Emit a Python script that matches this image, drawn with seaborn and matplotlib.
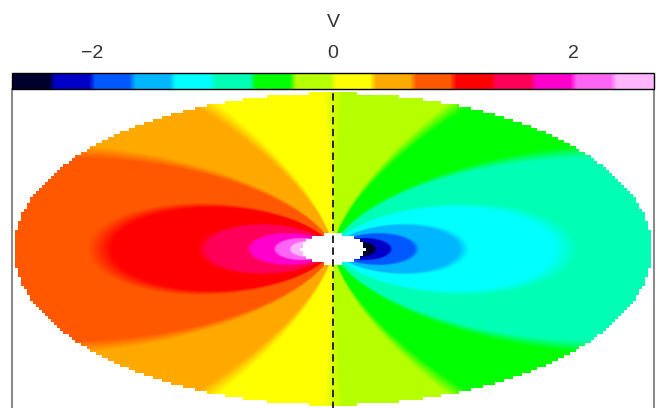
import numpy as np
import matplotlib
matplotlib.use("Agg")
import matplotlib.pyplot as plt
from matplotlib.colors import LinearSegmentedColormap, Normalize
from matplotlib.ticker import MultipleLocator
import seaborn as sns

# Velocity scale: sixteen colour bands from v_min to v_max
band_colors = ["#00002c", "#0000c8", "#0058ff", "#00b6ff", "#00ffff", "#00ffb4",
               "#00ff00", "#b6ff00", "#ffff00", "#ffaa00", "#ff5800", "#ff0000",
               "#ff0058", "#ff00cc", "#ff64f4", "#ffb6ff"]
v_min, v_max = -8 / 3, 8 / 3
cbar_major_ticks = [-2, 0, 2]
cbar_minor_step = 0.5
cbar_label = "V"

# Disk geometry (radius in units of the outer edge)
r_inner = 0.10
r_outer = 1.0
cos_incl = 0.489
v_scale = 0.854          # line-of-sight speed at r = 1 on the major axis

# Plot window in sky coordinates
x_half = 1.006
y_half = 0.5016

sns.set_theme(style="white")
plt.rcParams["font.family"] = ["Liberation Sans", "DejaVu Sans"]

# Banded colormap with short blends between neighbouring colours
n = len(band_colors)
blend = 0.08 / n
nodes = [(0.0, band_colors[0])]
for k in range(n - 1):
    edge = (k + 1) / n
    nodes.append((edge - blend, band_colors[k]))
    nodes.append((edge + blend, band_colors[k + 1]))
nodes.append((1.0, band_colors[-1]))
cmap = LinearSegmentedColormap.from_list("vbands", nodes, N=2048)
norm = Normalize(vmin=v_min, vmax=v_max)

# Keplerian line-of-sight velocity on a fine grid
fx = np.linspace(-x_half, x_half, 1284)
fy = np.linspace(-y_half, y_half, 640)
FX, FY = np.meshgrid(fx, fy)
FR = np.hypot(FX, FY / cos_incl)
FR = np.maximum(FR, 1e-3)
vel = np.clip(-v_scale * FX / FR ** 1.5, v_min, v_max)

# Coarse pixel mask: outside the disk and inside the inner hole
nx, ny = 214, 107
cx = (np.arange(nx) + 0.5) / nx * 2 * x_half - x_half
cy = (np.arange(ny) + 0.5) / ny * 2 * y_half - y_half
CX, CY = np.meshgrid(cx, cy)
CR = np.hypot(CX, CY / cos_incl)
outside = (CR > r_outer) | (CR < r_inner)
mask_rgba = np.zeros((ny, nx, 4))
mask_rgba[outside] = [1, 1, 1, 1]

W, H = 659, 408
fig = plt.figure(figsize=(W / 100, H / 100), dpi=100)
ax = fig.add_axes([12 / W, -1 / H, 642 / W, 320 / H])
cax = fig.add_axes([12 / W, (H - 89) / H, 642 / W, 16 / H])

im = ax.imshow(vel, cmap=cmap, norm=norm, origin="lower",
               extent=[-x_half, x_half, -y_half, y_half],
               interpolation="bilinear", aspect="auto")
ax.imshow(mask_rgba, origin="lower", extent=[-x_half, x_half, -y_half, y_half],
          interpolation="nearest", aspect="auto")
ax.axvline(0, color="0.15", lw=1.4, ls=(0, (3.8, 2.3)))
ax.set_xlim(-x_half, x_half)
ax.set_ylim(-y_half, y_half)
ax.set_xticks([])
ax.set_yticks([])
for side in ("left", "right"):
    ax.spines[side].set_color("0.45")
    ax.spines[side].set_linewidth(1.2)
for side in ("top", "bottom"):
    ax.spines[side].set_visible(False)

cbar = fig.colorbar(im, cax=cax, orientation="horizontal", ticklocation="top")
cbar.set_ticks(cbar_major_ticks)
cbar.minorlocator = MultipleLocator(cbar_minor_step)
cbar.outline.set_edgecolor("black")
cbar.outline.set_linewidth(1.0)
cax.tick_params(axis="x", which="major", direction="in", length=6.5, width=1,
                color="0.2", labelsize=14, pad=8, labelcolor="0.2")
cax.tick_params(axis="x", which="minor", direction="in", length=3.2, width=1,
                color="0.2")
cbar.set_label(cbar_label, fontsize=14, labelpad=13, color="0.2")

fig.savefig("out.png", dpi=100)
